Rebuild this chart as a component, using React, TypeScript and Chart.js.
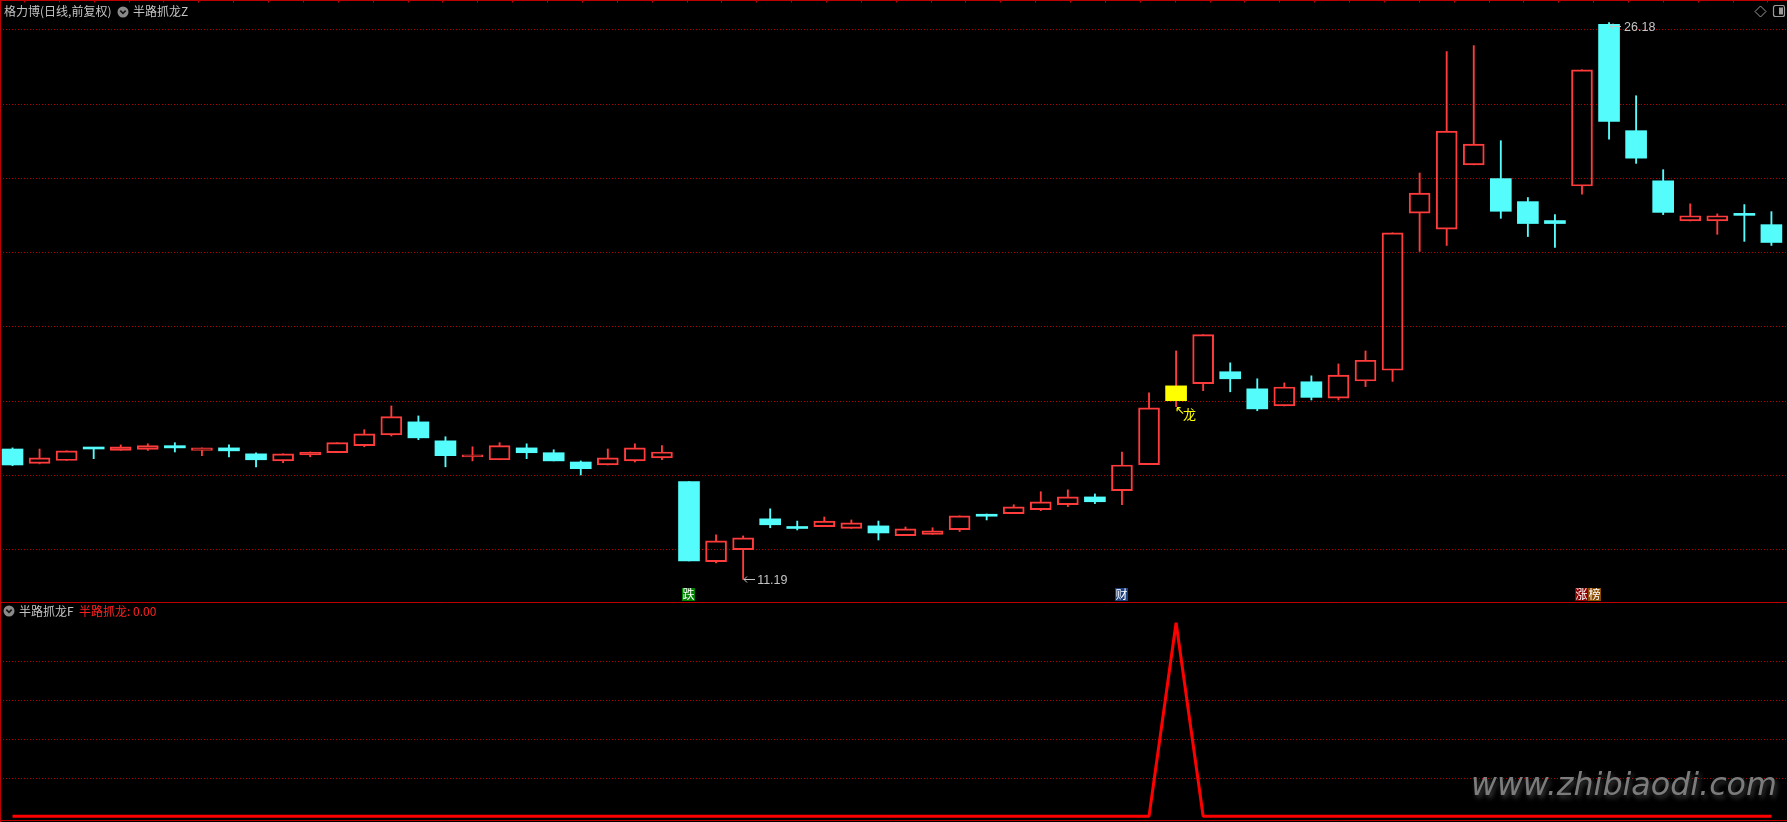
import React, { useEffect, useRef } from "react";
import { Chart, registerables } from "chart.js";

Chart.register(...registerables);

// ---------------- data ----------------
const stockTitle = "格力博(日线,前复权)";
const mainIndicatorName = "半路抓龙Z";
const subIndicatorName = "半路抓龙F";
const subSeriesName = "半路抓龙";

const opens = [
  14.70, 14.31, 14.39, 14.73, 14.66, 14.69, 14.79, 14.66, 14.73, 14.57,
  14.38, 14.54, 14.60, 14.79, 15.08, 15.43, 14.92, 14.49, 14.41, 14.73,
  14.60, 14.35, 14.27, 14.38, 14.46, 13.82, 11.67, 11.99, 12.82, 12.57,
  12.61, 12.56, 12.63, 12.37, 12.40, 12.53, 12.90, 12.96, 13.07, 13.20,
  13.41, 13.58, 14.28, 16.00, 16.46, 16.78, 16.32, 15.86, 16.51, 16.07,
  16.53, 16.82, 21.05, 20.62, 22.35, 21.98, 21.36, 20.85, 21.78, 26.13,
  23.27, 21.92, 20.84, 20.84, 21.03, 20.74,
];
const highs = [
  14.73, 14.70, 14.65, 14.73, 14.81, 14.84, 14.87, 14.73, 14.81, 14.60,
  14.57, 14.62, 14.87, 15.22, 15.86, 15.59, 15.03, 14.76, 14.87, 14.84,
  14.68, 14.38, 14.70, 14.84, 14.79, 13.82, 12.39, 12.36, 13.09, 12.76,
  12.87, 12.79, 12.76, 12.60, 12.58, 12.90, 12.95, 13.20, 13.55, 13.60,
  13.49, 14.62, 16.21, 17.34, 17.78, 17.02, 16.59, 16.48, 16.67, 16.99,
  17.34, 20.52, 22.13, 25.40, 25.56, 23.00, 21.47, 21.01, 24.91, 26.18,
  24.21, 22.22, 21.30, 21.03, 21.28, 21.09,
];
const lows = [
  14.25, 14.30, 14.39, 14.44, 14.66, 14.66, 14.62, 14.52, 14.49, 14.22,
  14.33, 14.49, 14.60, 14.76, 15.05, 14.95, 14.22, 14.38, 14.41, 14.44,
  14.38, 14.00, 14.27, 14.35, 14.41, 11.69, 11.63, 11.19, 12.58, 12.52,
  12.61, 12.56, 12.25, 12.37, 12.40, 12.48, 12.79, 12.96, 13.04, 13.15,
  13.23, 13.20, 14.28, 15.84, 16.27, 16.24, 15.73, 15.86, 16.02, 16.02,
  16.38, 16.52, 20.02, 20.18, 22.35, 20.91, 20.42, 20.13, 21.56, 23.04,
  22.39, 21.01, 20.84, 20.48, 20.29, 20.18,
];
const closes = [
  14.27, 14.46, 14.65, 14.70, 14.76, 14.79, 14.73, 14.73, 14.65, 14.41,
  14.57, 14.62, 14.87, 15.11, 15.57, 15.00, 14.52, 14.54, 14.79, 14.60,
  14.38, 14.17, 14.46, 14.73, 14.62, 11.69, 12.23, 12.31, 12.66, 12.56,
  12.76, 12.71, 12.44, 12.55, 12.50, 12.90, 12.89, 13.14, 13.28, 13.41,
  13.28, 14.27, 15.81, 16.40, 17.78, 16.59, 15.78, 16.37, 16.09, 16.69,
  17.09, 20.52, 21.59, 23.26, 22.91, 21.10, 20.77, 20.77, 24.91, 23.52,
  22.53, 21.07, 20.98, 20.98, 20.99, 20.26,
];
const signalValues = [
  0, 0, 0, 0, 0, 0, 0, 0, 0, 0,
  0, 0, 0, 0, 0, 0, 0, 0, 0, 0,
  0, 0, 0, 0, 0, 0, 0, 0, 0, 0,
  0, 0, 0, 0, 0, 0, 0, 0, 0, 0,
  0, 0, 0, 1, 0, 0, 0, 0, 0, 0,
  0, 0, 0, 0, 0, 0, 0, 0, 0, 0,
  0, 0, 0, 0, 0, 0,
];
const priceGridValues = [12, 14, 16, 18, 20, 22, 24, 26];
const signalGridValues = [0.2, 0.4, 0.6, 0.8];
const dragonIndex = 43;
const dragonText = "龙";
const badgeIndices = [25, 41, 58];
const badgeTexts = [["跌"], ["财"], ["涨", "榜"]];
const watermarkText = "www.zhibiaodi.com";

// ---------------- layout / styles ----------------
const W = 1787;
const TOP_H = 602;
const BOT_H = 220;
const X_MIN = -0.4619;
const X_MAX = 65.576;
const PRICE_MIN = 10.581;
const PRICE_MAX = 26.788;
const SIG_MIN = -0.0294;
const SIG_MAX = 1.1069;

const RED = "#ff3b3b";
const CYAN = "#54fcfc";
const YELLOW = "#ffff00";
const GRID = "#b40000";
const FRAME = "#c00000";
const TEXT_GREY = "#c4c4c4";
const CJK = '"Noto Sans CJK SC", "Noto Sans", sans-serif';
const badgeFills = [["#008000"], ["#1d3f7e"], ["#8c0000", "#8a4a00"]];

const idx = opens.map((_, i) => i);
const isUp = idx.map((i) => closes[i] >= opens[i]);
const bodyTop = idx.map((i) => Math.max(opens[i], closes[i]));
const bodyBot = idx.map((i) => Math.min(opens[i], closes[i]));
const candleColor = idx.map((i) => (isUp[i] ? RED : CYAN));

function dottedGrid(values: number[]) {
  return {
    id: "dottedGrid",
    beforeDatasetsDraw(chart: any) {
      const { ctx, chartArea, scales } = chart;
      ctx.save();
      ctx.strokeStyle = GRID;
      ctx.lineWidth = 1;
      ctx.setLineDash([1, 2]);
      values.forEach((v) => {
        const py = Math.round(scales.y.getPixelForValue(v)) + 0.5;
        ctx.beginPath();
        ctx.moveTo(chartArea.left, py);
        ctx.lineTo(chartArea.right, py);
        ctx.stroke();
      });
      ctx.restore();
    },
  };
}

function drawLeftArrow(ctx: CanvasRenderingContext2D, x0: number, y0: number) {
  ctx.beginPath();
  ctx.moveTo(x0 + 1, y0 + 0.5);
  ctx.lineTo(x0 + 12, y0 + 0.5);
  ctx.moveTo(x0 + 1, y0 + 0.5);
  ctx.lineTo(x0 + 4, y0 - 2.5);
  ctx.moveTo(x0 + 1, y0 + 0.5);
  ctx.lineTo(x0 + 4, y0 + 3.5);
  ctx.stroke();
}

const topDecor = {
  id: "topDecor",
  afterDatasetsDraw(chart: any) {
    const { ctx, scales } = chart;
    const x = scales.x;
    const y = scales.y;
    ctx.save();
    // highest / lowest labels
    let hi = 0;
    let lo = 0;
    idx.forEach((i) => {
      if (highs[i] > highs[hi]) hi = i;
      if (lows[i] < lows[lo]) lo = i;
    });
    ctx.strokeStyle = TEXT_GREY;
    ctx.fillStyle = TEXT_GREY;
    ctx.lineWidth = 1;
    ctx.font = '12.5px "Liberation Sans", Arial, sans-serif';
    ctx.textBaseline = "middle";
    ctx.textAlign = "left";
    const hx = x.getPixelForValue(hi);
    const hy = y.getPixelForValue(highs[hi]);
    drawLeftArrow(ctx, Math.round(hx), Math.round(hy + 3));
    ctx.fillText(highs[hi].toFixed(2), hx + 15, hy + 5);
    const lx = x.getPixelForValue(lo);
    const ly = y.getPixelForValue(lows[lo]);
    drawLeftArrow(ctx, Math.round(lx), Math.round(ly));
    ctx.fillText(lows[lo].toFixed(2), lx + 14, ly + 1.5);

    // dragon marker
    const dx = x.getPixelForValue(dragonIndex);
    const dy = y.getPixelForValue(lows[dragonIndex]);
    ctx.strokeStyle = YELLOW;
    ctx.fillStyle = YELLOW;
    ctx.lineWidth = 1.2;
    ctx.beginPath();
    ctx.moveTo(dx + 1, dy + 1);
    ctx.lineTo(dx + 7, dy + 7);
    ctx.moveTo(dx + 1, dy + 1);
    ctx.lineTo(dx + 4.5, dy + 1);
    ctx.moveTo(dx + 1, dy + 1);
    ctx.lineTo(dx + 1, dy + 4.5);
    ctx.stroke();
    ctx.font = "13px " + CJK;
    ctx.fillText(dragonText, dx + 7, dy + 7);

    // badges at the bottom of the price panel
    ctx.font = "12px " + CJK;
    ctx.textAlign = "center";
    badgeIndices.forEach((bi, k) => {
      const cx = x.getPixelForValue(bi);
      badgeTexts[k].forEach((ch, j) => {
        const left = Math.round(cx - 6.8) + j * 13;
        ctx.fillStyle = badgeFills[k][j];
        ctx.fillRect(left, 588, 13, 13);
        ctx.fillStyle = "#ffffff";
        ctx.fillText(ch, left + 6.5, 594.8);
      });
    });
    ctx.restore();
  },
  afterDraw(chart: any) {
    const { ctx } = chart;
    ctx.save();
    ctx.strokeStyle = FRAME;
    ctx.lineWidth = 1;
    ctx.beginPath();
    ctx.moveTo(0, 0.5);
    ctx.lineTo(W, 0.5);
    ctx.moveTo(0.5, 0);
    ctx.lineTo(0.5, TOP_H);
    for (let tx = 24; tx < W; tx += 34.87) {
      const px = Math.round(tx) + 0.5;
      ctx.moveTo(px, 0);
      ctx.lineTo(px, 2.5);
    }
    ctx.stroke();
    ctx.restore();
  },
};

const bottomDecor = {
  id: "bottomDecor",
  afterDraw(chart: any) {
    const { ctx } = chart;
    ctx.save();
    ctx.strokeStyle = FRAME;
    ctx.lineWidth = 1;
    ctx.beginPath();
    ctx.moveTo(0, 0.5);
    ctx.lineTo(W, 0.5);
    ctx.moveTo(0, 218.5);
    ctx.lineTo(W, 218.5);
    ctx.moveTo(0.5, 0);
    ctx.lineTo(0.5, BOT_H);
    ctx.stroke();

    // watermark
    ctx.font = 'italic 28px "DejaVu Sans", sans-serif';
    const w = ctx.measureText(watermarkText).width;
    const size = (28 * 306) / w;
    ctx.font = `italic ${size}px "DejaVu Sans", sans-serif`;
    ctx.textBaseline = "alphabetic";
    ctx.textAlign = "left";
    ctx.shadowColor = "rgba(70,70,70,0.9)";
    ctx.shadowBlur = 5;
    ctx.shadowOffsetX = 2;
    ctx.shadowOffsetY = 3;
    ctx.fillStyle = "#7c7c7c";
    ctx.fillText(watermarkText, 1471, 193);
    ctx.restore();
  },
};

const Chevron = ({ left, top }: { left: number; top: number }) => (
  <svg style={{ position: "absolute", left, top }} width={12} height={12}>
    <circle cx={6} cy={6} r={5.5} fill="#8a8a8a" />
    <polyline points="3.3,4.6 6,7.4 8.7,4.6" fill="none" stroke="#151515" strokeWidth={1.6} />
  </svg>
);

const label = (left: number, top: number, color: string): React.CSSProperties => ({
  position: "absolute",
  left,
  top,
  color,
  fontFamily: CJK,
  fontSize: 12,
  lineHeight: "12px",
  whiteSpace: "nowrap",
});

export default function App() {
  const topRef = useRef<HTMLCanvasElement>(null);
  const botRef = useRef<HTMLCanvasElement>(null);

  useEffect(() => {
    const common = {
      animation: false as const,
      responsive: false,
      events: [] as any[],
      layout: { padding: 0 },
      plugins: { legend: { display: false }, tooltip: { enabled: false } },
    };
    const top = new Chart(topRef.current as HTMLCanvasElement, {
      type: "bar",
      data: {
        datasets: [
          {
            label: "body",
            order: 0,
            data: idx.map((i) => ({ x: i, y: [opens[i], closes[i]] })) as any,
            barThickness: 21,
            grouped: false,
            minBarLength: 2,
            borderSkipped: false,
            backgroundColor: idx.map((i) =>
              i === dragonIndex ? YELLOW : isUp[i] ? "rgba(0,0,0,0)" : CYAN
            ),
            borderColor: idx.map((i) => (i === dragonIndex ? YELLOW : candleColor[i])),
            borderWidth: idx.map((i) => (isUp[i] && i !== dragonIndex ? 1.3 : 0)),
          },
          {
            label: "upper shadow",
            order: 1,
            data: idx.map((i) => ({ x: i, y: [bodyTop[i], highs[i]] })) as any,
            barThickness: 1.2,
            grouped: false,
            backgroundColor: candleColor,
          },
          {
            label: "lower shadow",
            order: 1,
            data: idx.map((i) => ({ x: i, y: [lows[i], bodyBot[i]] })) as any,
            barThickness: 1.2,
            grouped: false,
            backgroundColor: candleColor,
          },
        ],
      },
      options: {
        ...common,
        scales: {
          x: { type: "linear", min: X_MIN, max: X_MAX, display: false, offset: false },
          y: { type: "linear", min: PRICE_MIN, max: PRICE_MAX, display: false },
        },
      },
      plugins: [dottedGrid(priceGridValues), topDecor],
    } as any);

    const bot = new Chart(botRef.current as HTMLCanvasElement, {
      type: "line",
      data: {
        datasets: [
          {
            label: subSeriesName,
            data: idx.map((i) => ({ x: i, y: signalValues[i] })),
            borderColor: "#ff0000",
            borderWidth: 3,
            pointRadius: 0,
            tension: 0,
            borderJoinStyle: "bevel",
            fill: false,
          },
        ],
      },
      options: {
        ...common,
        scales: {
          x: { type: "linear", min: X_MIN, max: X_MAX, display: false, offset: false },
          y: { type: "linear", min: SIG_MIN, max: SIG_MAX, display: false },
        },
      },
      plugins: [dottedGrid(signalGridValues), bottomDecor],
    } as any);

    return () => {
      top.destroy();
      bot.destroy();
    };
  }, []);

  const lastSignal = signalValues[signalValues.length - 1].toFixed(2);

  return (
    <div
      style={{
        position: "fixed",
        left: 0,
        top: 0,
        width: W,
        height: TOP_H + BOT_H,
        background: "#000",
        overflow: "hidden",
      }}
    >
      <canvas
        ref={topRef}
        width={W}
        height={TOP_H}
        style={{ position: "absolute", left: 0, top: 0, width: W, height: TOP_H }}
      />
      <canvas
        ref={botRef}
        width={W}
        height={BOT_H}
        style={{ position: "absolute", left: 0, top: TOP_H, width: W, height: BOT_H }}
      />
      <span style={label(4, 5, TEXT_GREY)}>{stockTitle}</span>
      <Chevron left={117} top={5.5} />
      <span style={label(133, 5, TEXT_GREY)}>{mainIndicatorName}</span>
      <svg style={{ position: "absolute", left: 1754, top: 5 }} width={32} height={14}>
        <polygon points="6.5,1 12,6.5 6.5,12 1,6.5" fill="none" stroke="#9a9a9a" strokeWidth={1} />
        <rect x={19.5} y={0.5} width={11} height={11} rx={2} fill="none" stroke="#9a9a9a" strokeWidth={1.2} />
        <rect x={25} y={2.5} width={4} height={7} fill="#9a9a9a" />
      </svg>
      <Chevron left={3} top={605} />
      <span style={label(19, 605, TEXT_GREY)}>{subIndicatorName}</span>
      <span style={label(79, 605, "#ff2020")}>{subSeriesName + ": " + lastSignal}</span>
    </div>
  );
}
